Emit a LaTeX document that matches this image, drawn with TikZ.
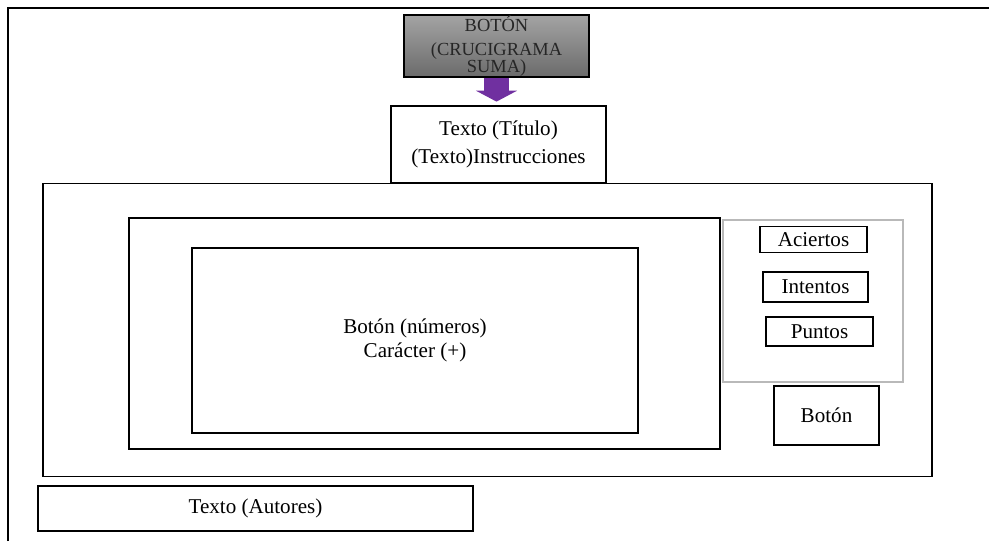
\documentclass[tikz,border=0pt]{standalone}
\usepackage{fontspec}
\setmainfont{Liberation Serif}
\usetikzlibrary{arrows.meta, positioning}
\definecolor{arrowpurple}{RGB}{112,48,160}

\begin{document}
\begin{tikzpicture}[
    x=0.02cm, y=-0.02cm,
    box/.style={draw, line width=1pt, rectangle, align=center, inner sep=0pt, font=\fontsize{12}{14}\selectfont},
    panel/.style={draw=gray!55, line width=1pt, rectangle, inner sep=0pt},
    flow/.style={-{Triangle[length=0.22cm, width=0.82cm]}, line width=0.5cm, draw=arrowpurple}
]
\useasboundingbox (0,0) rectangle (989,541);
\draw[line width=1pt] (8,541) -- (8,8) -- (989,8);

\node[box, minimum width=3.7cm, minimum height=1.24cm, top color=black!36, bottom color=black!58,
      font=\fontsize{10.5}{12}\selectfont, text=black!85] (btn) at (496.5,46) {BOTÓN\\[2pt](CRUCIGRAMA\\[-2.5pt]SUMA)};
\node[box, minimum width=4.3cm, minimum height=1.54cm] (tit) at (498.5,144.5) {Texto (Título)\\[1.5pt](Texto)Instrucciones};

\node[box, minimum width=17.78cm, minimum height=5.86cm] (main) at (487.5,330) {};
\node[box, minimum width=11.82cm, minimum height=4.62cm] (game) at (424.5,333.5) {};
\node[box, minimum width=8.92cm, minimum height=3.7cm] (grid) at (415,340.5) {Botón (números)\\[0pt]Carácter (+)};

\node[panel, minimum width=3.6cm, minimum height=3.24cm] (side) at (813,301) {};
\node[box, minimum width=2.14cm, minimum height=0.52cm] (hits) at (813.5,239.5) {Aciertos};
\node[box, minimum width=2.1cm, minimum height=0.6cm] (tries) at (815.5,287) {Intentos};
\node[box, minimum width=2.14cm, minimum height=0.58cm] (pts) at (819.5,331.5) {Puntos};
\node[box, minimum width=2.1cm, minimum height=1.18cm] (go) at (826.5,415.5) {Botón};

\node[box, minimum width=8.7cm, minimum height=0.9cm] (auth) at (255.5,508.5) {Texto (Autores)};

\draw[flow] (btn.south) -- ([yshift=2pt]btn.south |- tit.north);
\end{tikzpicture}
\end{document}
